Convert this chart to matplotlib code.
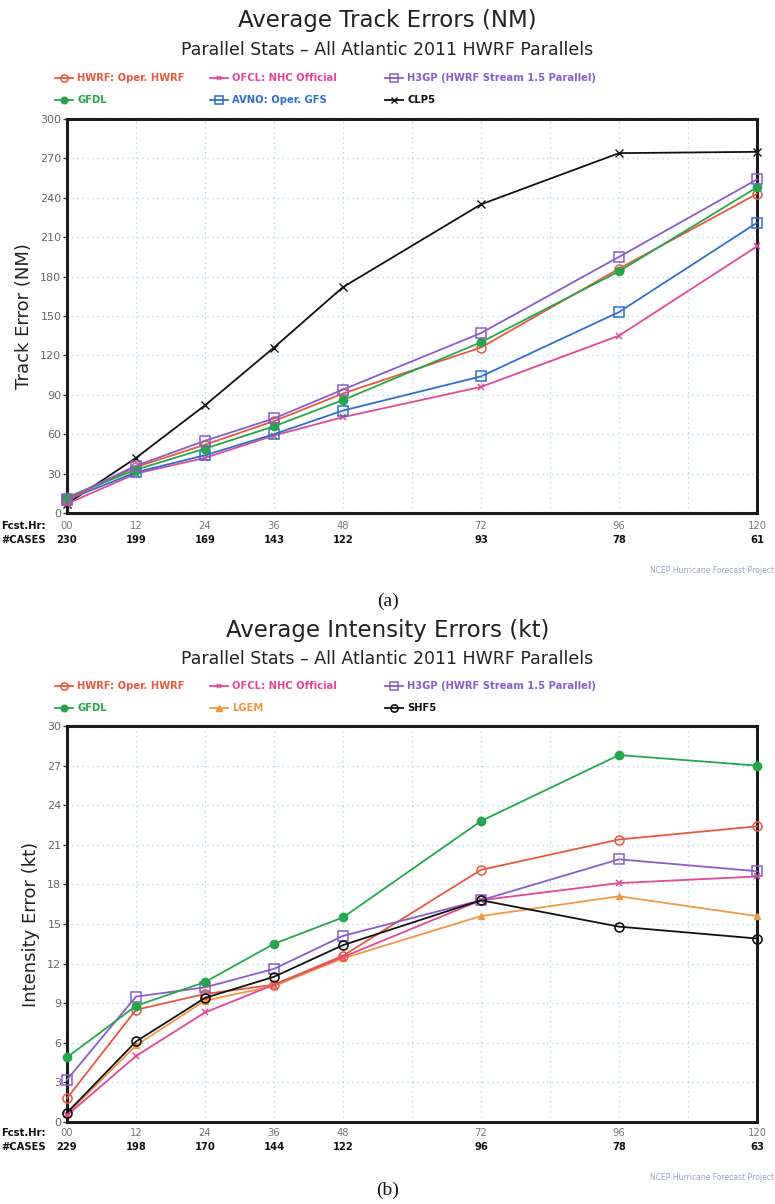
import matplotlib
matplotlib.use('Agg')
import matplotlib.pyplot as plt
from matplotlib.lines import Line2D
from matplotlib.transforms import blended_transform_factory

# Forecast hours and sample sizes
hours = [0, 12, 24, 36, 48, 72, 96, 120]
hour_labels = ['00', '12', '24', '36', '48', '72', '96', '120']
cases_trk = [230, 199, 169, 143, 122, 93, 78, 61]
cases_int = [229, 198, 170, 144, 122, 96, 78, 63]

# Track errors (NM)
hwrf_trk = [10, 35, 52, 70, 91, 126, 186, 243]
ofcl_trk = [7, 30, 42, 59, 73, 96, 135, 203]
h3gp_trk = [11, 36, 55, 72, 94, 137, 195, 254]
gfdl_trk = [12, 33, 49, 66, 86, 130, 184, 248]
avno_trk = [10, 31, 44, 60, 78, 104, 153, 221]
clp5_trk = [7, 42, 82, 126, 172, 235, 274, 275]

# Intensity errors (kt)
hwrf_int = [1.8, 8.5, 9.7, 10.4, 12.6, 19.1, 21.4, 22.4]
ofcl_int = [0.5, 5.0, 8.3, 10.4, 12.5, 16.8, 18.1, 18.6]
h3gp_int = [3.2, 9.5, 10.2, 11.6, 14.1, 16.8, 19.9, 19.0]
gfdl_int = [4.9, 8.8, 10.6, 13.5, 15.5, 22.8, 27.8, 27.0]
lgem_int = [0.6, 5.8, 9.2, 10.3, 12.4, 15.6, 17.1, 15.6]
shf5_int = [0.7, 6.1, 9.4, 11.0, 13.4, 16.8, 14.8, 13.9]

RED = '#e8583c'
PINK = '#e2479a'
PURPLE = '#8a5cc8'
GREEN = '#22a84a'
BLUE = '#2f6fcc'
ORANGE = '#f2973f'
BLACK = '#111111'

styles = {
    'HWRF': dict(color=RED, marker='o', mfc='none', ms=6.5, mew=1.1),
    'OFCL': dict(color=PINK, marker='x', ms=4, mew=1.1),
    'H3GP': dict(color=PURPLE, marker='s', mfc='none', ms=6.5, mew=1.1),
    'GFDL': dict(color=GREEN, marker='o', ms=6),
    'AVNO': dict(color=BLUE, marker='s', mfc='none', ms=6.5, mew=1.1),
    'CLP5': dict(color=BLACK, marker='x', ms=5.5, mew=1.0),
    'LGEM': dict(color=ORANGE, marker='^', ms=5),
    'SHF5': dict(color=BLACK, marker='o', mfc='none', ms=6.5, mew=1.2),
}

W, H = 775, 1204
fig = plt.figure(figsize=(W / 100, H / 100), dpi=100)
fig.patch.set_facecolor('white')


def fx(x):
    return x / W


def fy(y):
    return 1 - y / H


def make_panel(top, bottom, ymax, ylabel, title, series, legend_entries,
               title_y, leg_y, cases, hr_y, foot_y, tag, tag_y):
    ax = fig.add_axes([fx(67), fy(bottom), fx(757) - fx(67), fy(top) - fy(bottom)])
    for name, vals in series:
        ax.plot(hours, vals, lw=1.3, clip_on=False, zorder=3, **styles[name])
    ax.set_xlim(0, 120)
    ax.set_ylim(0, ymax)
    ax.set_yticks([ymax / 10 * i for i in range(11)])
    ax.set_yticklabels([str(int(ymax / 10 * i)) for i in range(11)],
                       fontsize=8, color='#666666')
    ax.tick_params(axis='y', length=3, width=1, pad=1, color='#333333')
    ax.set_xticks(range(0, 121, 12), minor=False)
    ax.set_xticklabels([])
    ax.tick_params(axis='x', length=0)
    ax.grid(True, color='#a9d2ee', lw=0.9, ls=(0, (1, 3)))
    for sp in ax.spines.values():
        sp.set_linewidth(2.2)
        sp.set_color('#1c1c1c')
        sp.set_linestyle((0, (4, 0.6)))
    ax.set_ylabel(ylabel, fontsize=13, color='#222222', labelpad=5)

    tr = blended_transform_factory(ax.transData, fig.transFigure)
    for h, lab, c in zip(hours, hour_labels, cases):
        ax.text(h, fy(hr_y), lab, transform=tr, ha='center', va='center',
                fontsize=8, color='#777777', stretch='condensed')
        ax.text(h, fy(hr_y + 14), str(c), transform=tr, ha='center', va='center',
                fontsize=8, color='#111111', fontweight='bold', stretch='condensed')
    fig.text(fx(1), fy(hr_y), 'Fcst.Hr:', ha='left', va='center', fontsize=8,
             color='#111111', fontweight='bold', stretch='condensed')
    fig.text(fx(1), fy(hr_y + 14), '#CASES', ha='left', va='center', fontsize=8,
             color='#111111', fontweight='bold', stretch='condensed')

    fig.text(0.5, fy(title_y), title, ha='center', va='center', fontsize=16.5,
             color='#222222')
    fig.text(0.5, fy(title_y + 29), 'Parallel Stats \u2013 All Atlantic 2011 HWRF Parallels',
             ha='center', va='center', fontsize=12.5, color='#222222')

    cols = [55, 210, 385]
    for i, (name, label, tcolor) in enumerate(legend_entries):
        x0 = cols[i % 3]
        yy = leg_y + (i // 3) * 22
        st = dict(styles[name])
        st['ms'] = st['ms'] * 0.8
        fig.add_artist(Line2D([fx(x0), fx(x0 + 18)], [fy(yy), fy(yy)], lw=1.3,
                              color=st['color'], transform=fig.transFigure))
        fig.add_artist(Line2D([fx(x0 + 9)], [fy(yy)], lw=0,
                              transform=fig.transFigure, **st))
        fig.text(fx(x0 + 22), fy(yy), label, ha='left', va='center', fontsize=8,
                 color=tcolor, fontweight='bold', stretch='condensed')

    fig.text(fx(774), fy(foot_y), 'NCEP Hurricane Forecast Project', ha='right',
             va='center', fontsize=5.5, color='#9aa8c0')
    fig.text(0.5, fy(tag_y), tag, ha='center', va='center', fontsize=14,
             family='Liberation Serif', color='#111111')
    return ax


make_panel(119, 513, 300, 'Track Error (NM)', 'Average Track Errors (NM)',
           [('CLP5', clp5_trk), ('OFCL', ofcl_trk), ('AVNO', avno_trk),
            ('HWRF', hwrf_trk), ('GFDL', gfdl_trk), ('H3GP', h3gp_trk)],
           [('HWRF', 'HWRF: Oper. HWRF', RED), ('OFCL', 'OFCL: NHC Official', PINK),
            ('H3GP', 'H3GP (HWRF Stream 1.5 Parallel)', PURPLE),
            ('GFDL', 'GFDL', GREEN), ('AVNO', 'AVNO: Oper. GFS', BLUE),
            ('CLP5', 'CLP5', BLACK)],
           21, 78, cases_trk, 526, 570, '(a)', 601)

make_panel(726, 1122, 30, 'Intensity Error (kt)', 'Average Intensity Errors (kt)',
           [('LGEM', lgem_int), ('OFCL', ofcl_int), ('HWRF', hwrf_int),
            ('H3GP', h3gp_int), ('SHF5', shf5_int), ('GFDL', gfdl_int)],
           [('HWRF', 'HWRF: Oper. HWRF', RED), ('OFCL', 'OFCL: NHC Official', PINK),
            ('H3GP', 'H3GP (HWRF Stream 1.5 Parallel)', PURPLE),
            ('GFDL', 'GFDL', GREEN), ('LGEM', 'LGEM', ORANGE),
            ('SHF5', 'SHF5', BLACK)],
           630, 686, cases_int, 1133, 1177, '(b)', 1190)

fig.savefig('out.png', dpi=100, facecolor='white')
